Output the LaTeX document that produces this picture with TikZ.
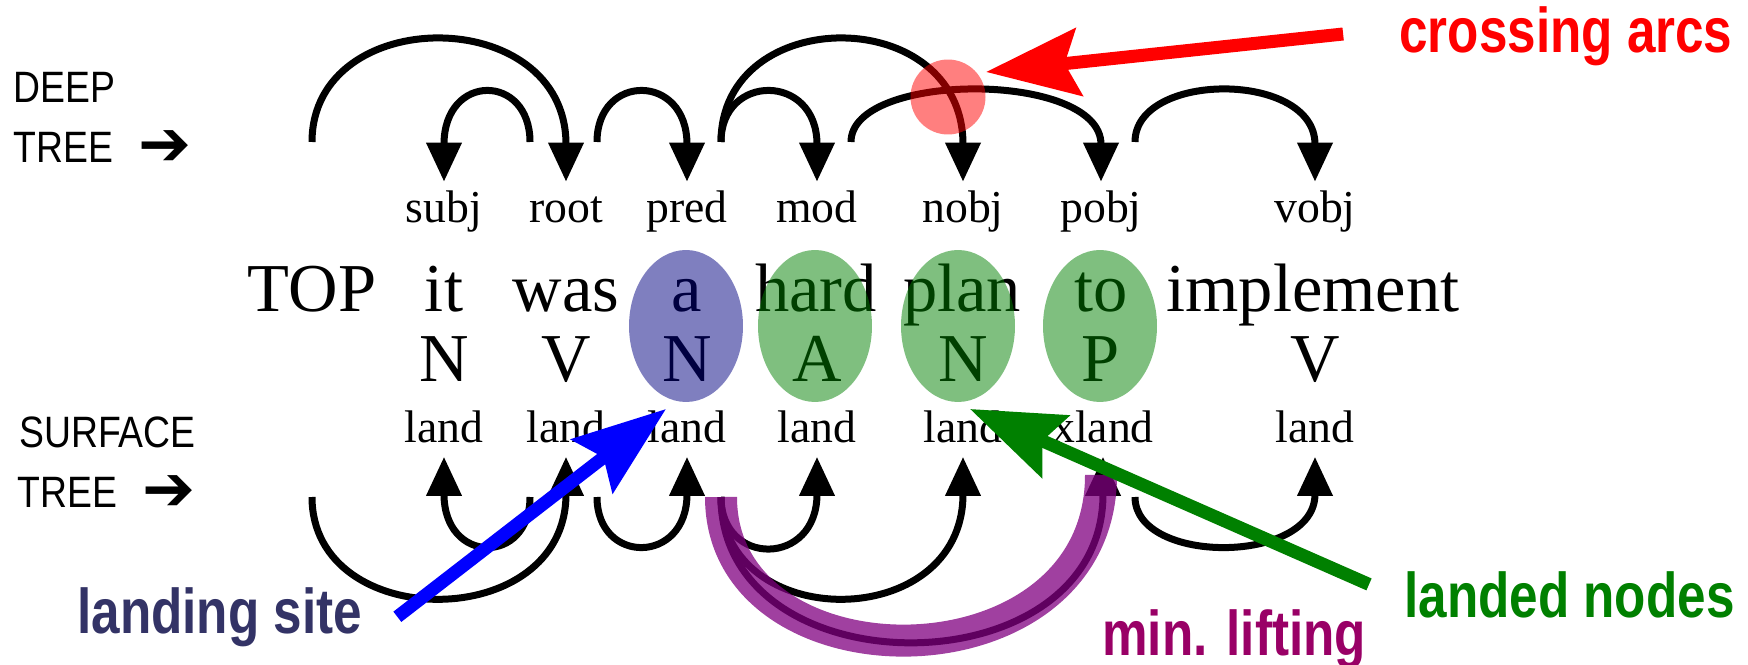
\documentclass[tikz,border=0pt]{standalone}
\usepackage{fontspec}
\setmainfont{Liberation Serif}
\newfontfamily\notefont[FakeStretch=0.81]{Liberation Sans}
\newfontfamily\sidefont[FakeStretch=0.85]{Liberation Sans}
\newfontfamily\arrowfont{DejaVu Sans}
\usetikzlibrary{shapes,arrows.meta}

\definecolor{navy}{RGB}{0,0,128}
\definecolor{leafgreen}{RGB}{0,128,0}
\definecolor{lift}{RGB}{128,0,128}
\definecolor{sitetext}{RGB}{51,51,102}
\definecolor{lifttext}{RGB}{153,0,102}

\newcommand{\treearrow}{\smash{\raisebox{-0.06cm}{\arrowfont\bfseries\fontsize{36pt}{36pt}\selectfont ➔}}}

\begin{document}
\begin{tikzpicture}[
  x=0.02cm, y=-0.02cm,
  word/.style={anchor=base, inner sep=0, font=\fontsize{39pt}{40pt}\selectfont},
  tag/.style={word},
  lab/.style={anchor=base, inner xsep=0, inner ysep=0.2cm, text height=0.62cm, text depth=0.09cm, font=\fontsize{26pt}{28pt}\selectfont},
  side/.style={anchor=base west, inner sep=0, font=\sidefont\fontsize{25pt}{30pt}\selectfont},
  note/.style={anchor=base west, inner xsep=0.7cm, inner ysep=0, font=\notefont\bfseries\fontsize{36pt}{40pt}\selectfont},
  link/.style={line width=0.14cm, -{Triangle[length=0.78cm, width=0.68cm]}},
  blob/.style={ellipse, minimum width=2.28cm, minimum height=3.04cm, inner sep=0, fill opacity=0.5},
  band/.style={draw=lift, draw opacity=0.75, line width=0.64cm},
  pointer/.style={line width=0.26cm, -{Stealth[length=1.86cm, width=1.34cm, inset=0.28cm]}}
]
  \useasboundingbox (0,0) rectangle (1748,665);

  % tree names on the left
  \node[side] (deep) at (13,103) {DEEP};
  \node[side] (deepTree) at (13,163) {TREE\hspace{0.52cm}\treearrow};
  \node[side] (surf) at (19,447) {SURFACE};
  \node[side] (surfTree) at (17,507) {TREE\hspace{0.52cm}\treearrow};

  % sentence
  \node[word] (top) at (312,312) {TOP};
  \node[word] (it) at (444,312) {it};
  \node[word] (was) at (566,312) {was};
  \node[word] (a) at (687,312) {a};
  \node[word] (hard) at (816,312) {hard};
  \node[word] (plan) at (962,312) {plan};
  \node[word] (to) at (1101,312) {to};
  \node[word] (impl) at (1313,312) {implement};

  % categories
  \node[tag] (itN) at (444,382) {N};
  \node[tag] (wasV) at (566,382) {V};
  \node[tag] (aN) at (687,382) {N};
  \node[tag] (hardA) at (817,382) {A};
  \node[tag] (planN) at (963,382) {N};
  \node[tag] (toP) at (1101,382) {P};
  \node[tag] (implV) at (1315,382) {V};

  % deep labels
  \node[lab] (subj) at (444,223) {subj};
  \node[lab] (root) at (566,223) {root};
  \node[lab] (pred) at (687,223) {pred};
  \node[lab] (mod) at (817,223) {mod};
  \node[lab] (nobj) at (963,223) {nobj};
  \node[lab] (pobj) at (1101,223) {pobj};
  \node[lab] (vobj) at (1315,223) {vobj};

  % surface labels
  \node[lab] (itL) at (444,442) {land};
  \node[lab] (wasL) at (566,442) {land};
  \node[lab] (aL) at (687,442) {land};
  \node[lab] (hardL) at (817,442) {land};
  \node[lab] (planL) at (963,442) {land};
  \node[lab] (toL) at (1103,442) {xland};
  \node[lab] (implL) at (1315,442) {land};

  % arc feet
  \coordinate (dTop) at (312,142);
  \coordinate (dWasL) at (530,142);
  \coordinate (dWasR) at (597,142);
  \coordinate (dA) at (721,142);
  \coordinate (dHard) at (851,142);
  \coordinate (dTo) at (1135,142);
  \coordinate (sTop) at (312,497);
  \coordinate (sWasL) at (530,497);
  \coordinate (sWasR) at (597,497);
  \coordinate (sA) at (721,497);
  \coordinate (sTo) at (1135,497);

  % deep tree
  \draw[link] (dTop) .. controls +(0,-139) and +(0,-179) .. (root.north);
  \draw[link] (dWasL) .. controls +(0,-69) and +(0,-109) .. (subj.north);
  \draw[link] (dWasR) .. controls +(0,-69) and +(0,-109) .. (pred.north);
  \draw[link] (dA) .. controls +(0,-69) and +(0,-109) .. (mod.north);
  \draw[link] (dA) .. controls +(0,-139) and +(0,-179) .. (nobj.north);
  \draw[link] (dHard) .. controls +(0,-71) and +(0,-111) .. (pobj.north);
  \draw[link] (dTo) .. controls +(0,-71) and +(0,-111) .. (vobj.north);

  % surface tree
  \draw[link] (sTop) .. controls +(0,137) and +(0,177) .. (wasL.south);
  \draw[link] (sWasL) .. controls +(0,68) and +(0,108) .. (itL.south);
  \draw[link] (sWasR) .. controls +(0,68) and +(0,108) .. (aL.south);
  \draw[link] (sA) .. controls +(0,70) and +(0,110) .. (hardL.south);
  \draw[link] (sA) .. controls +(0,137) and +(0,177) .. (planL.south);
  \draw[link] (sA) .. controls +(0,195) and +(0,235) .. (toL.south);
  \draw[link] (sTo) .. controls +(0,68) and +(0,108) .. (implL.south);

  % highlights
  \node[blob, fill=navy] (ringA) at (686,326) {};
  \node[blob, fill=leafgreen] (ringHard) at (815,326) {};
  \node[blob, fill=leafgreen] (ringPlan) at (958,326) {};
  \node[blob, fill=leafgreen] (ringTo) at (1100,326) {};
  \node[circle, fill=red, fill opacity=0.5, minimum size=1.5cm, inner sep=0] (spot) at (948,97) {};
  \coordinate (liftEnd) at (1101,475);
  \draw[band] (sA) .. controls +(0,195) and +(0,217) .. (liftEnd);

  % notes
  \node[note, text=red] (cross) at (1364,53) {crossing arcs};
  \node[note, text=leafgreen] (landed) at (1369,617) {landed nodes};
  \node[note, text=sitetext] (site) at (42,633) {landing site};
  \node[note, text=lifttext] (minlift) at (1067,655) {min. lifting};
  \coordinate (crossTip) at (986,72);
  \coordinate (siteTip) at (666,409);
  \coordinate (landedTip) at (970,409);
  \draw[pointer, red, shorten <=0.42cm] ([yshift=0.1cm]cross.west) -- (crossTip);
  \draw[pointer, blue] (site.east) -- (siteTip);
  \draw[pointer, leafgreen] ([yshift=0.2cm]landed.west) -- (landedTip);
\end{tikzpicture}
\end{document}
